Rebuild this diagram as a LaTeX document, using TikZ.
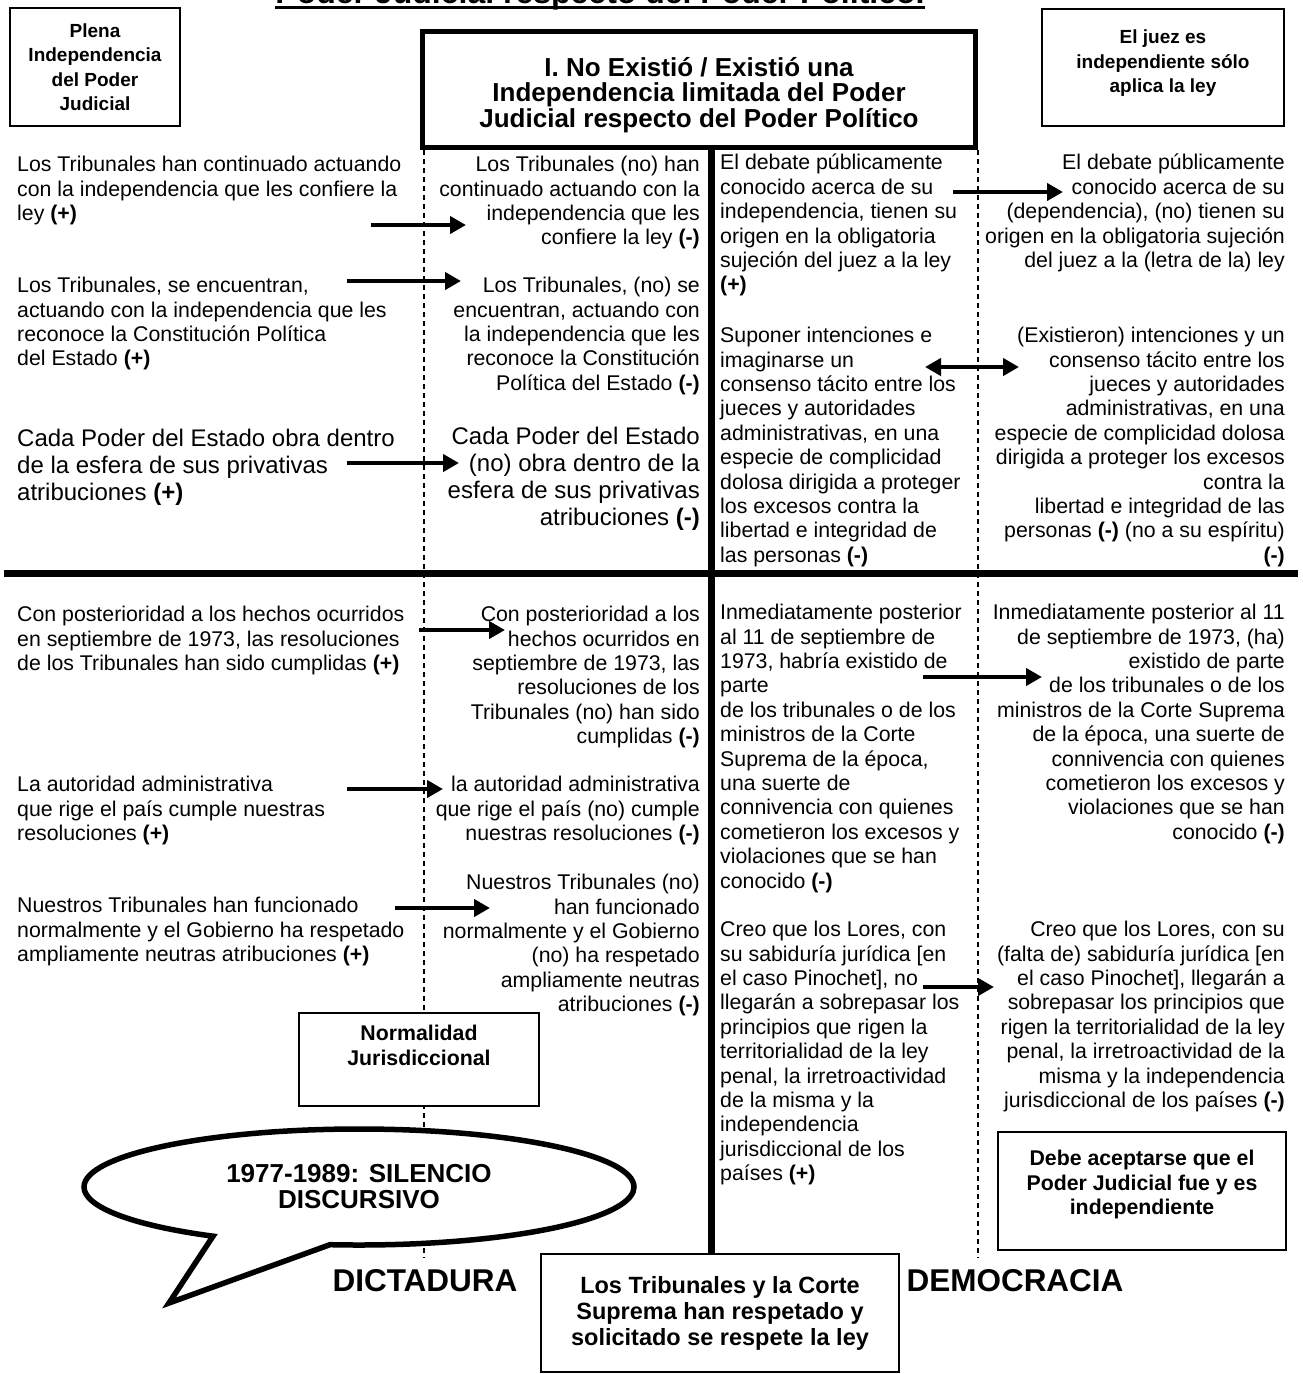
\documentclass[tikz,border=0pt]{standalone}
\usepackage{fontspec}
\setmainfont{Liberation Sans}
\usetikzlibrary{arrows.meta,shapes.callouts}

\begin{document}
\begin{tikzpicture}[x=1pt,y=-1pt,
      tx/.style={inner sep=0pt,font=\fontsize{21.3}{24.4}\selectfont,execute at begin node=\strut},
      izq/.style={tx,anchor=north west,align=left},
      der/.style={tx,anchor=north east,align=right},
      gr/.style={font=\fontsize{24}{27}\selectfont},
      caja/.style={draw,line width=2pt,fill=white,align=center,inner sep=0pt,
                   font=\bfseries\fontsize{19}{24.5}\selectfont},
      cajag/.style={caja,font=\bfseries\fontsize{21.3}{24.5}\selectfont},
      fl/.style={line width=4.5pt,-{Triangle[length=16pt,width=17pt]}},
      fd/.style={line width=4.5pt,{Triangle[length=16pt,width=17pt]}-{Triangle[length=16pt,width=17pt]}},
      punt/.style={line width=1.3pt,dash pattern=on 5pt off 4pt},
      gruesa/.style={line width=7pt},
      rotulo/.style={font=\bfseries\fontsize{31.5}{34}\selectfont}]
  \useasboundingbox (0,0) rectangle (1302,1374);

  \node[font=\bfseries\fontsize{32}{36}\selectfont,anchor=base,inner sep=0pt] (encabezado) at (600,3.5)
    {Poder Judicial respecto del Poder Político.};
  \draw[line width=2.5pt] ([yshift=-4pt]encabezado.base west) -- ([yshift=-4pt]encabezado.base east);

  \node[draw,line width=5pt,minimum width=553pt,minimum height=116pt,align=center,inner sep=0pt,
        font=\bfseries\fontsize{26}{25.5}\selectfont] (titulo) at (699,89.5)
    {\rule{0pt}{30pt}I. No Existió / Existió una\\ Independencia limitada del Poder\\ Judicial respecto del Poder Político};

  \coordinate (eje) at (711,0);
  \coordinate (ejeizq) at (424,0);
  \coordinate (ejeder) at (978,0);
  \coordinate (finizq) at (424,1258);
  \coordinate (finder) at (978,1258);
  \coordinate (hizq) at (4,573);
  \coordinate (hder) at (1298,573);

  \draw[punt] (titulo.south -| ejeizq) -- (finizq);
  \draw[punt] (titulo.south -| ejeder) -- (finder);
  \draw[gruesa] (hizq) -- (hder);

  \node[caja,font=\bfseries\fontsize{23.5}{26}\selectfont,minimum width=358pt,minimum height=118pt] (tribunales) at (720,1313)
    {Los Tribunales y la Corte\\ Suprema han respetado y\\ solicitado se respete la ley};
  \draw[gruesa] (titulo.south -| eje) -- (tribunales.north -| eje);

  \node[caja,minimum width=170pt,minimum height=118pt] (plena) at (95,67)
    {Plena\\ Independencia\\ del Poder\\ Judicial};
  \node[caja,minimum width=242pt,minimum height=117pt] (juez) at (1163,67.5)
    {El juez es\\ independiente sólo\\ aplica la ley\rule[-12pt]{0pt}{0pt}};
  \node[cajag,minimum width=240pt,minimum height=93pt] (normalidad) at (419,1059.5)
    {Normalidad\\ Jurisdiccional\rule[-28pt]{0pt}{0pt}};
  \node[cajag,line width=2.5pt,minimum width=288pt,minimum height=118pt] (debe) at (1142,1191)
    {Debe aceptarse que el\\ Poder Judicial fue y es\\ independiente\rule[-17pt]{0pt}{0pt}};

  \node[ellipse callout,draw,line width=5.5pt,fill=white,minimum width=550pt,minimum height=116pt,
        callout absolute pointer={(169,1303)},callout pointer arc=26,align=center,
        font=\bfseries\fontsize{26}{26}\selectfont] (burbuja) at (359,1187)
    {1977-1989: SILENCIO\\ DISCURSIVO};
  \node[rotulo] (dictadura) at (425,1281) {DICTADURA};
  \node[rotulo] (democracia) at (1015,1281) {DEMOCRACIA};

  \node[izq] (a1) at (17,156) {Los Tribunales han continuado actuando\\ con la independencia que les confiere la\\ ley \textbf{(+)}};
  \node[izq] (a2) at (17,277) {Los Tribunales, se encuentran,\\ actuando con la independencia que les\\ reconoce la Constitución Política\\ del Estado \textbf{(+)}};
  \node[izq,gr] (a3) at (17,429) {Cada Poder del Estado obra dentro\\ de la esfera de sus privativas\\ atribuciones \textbf{(+)}};
  \node[izq] (a4) at (17,606) {Con posterioridad a los hechos ocurridos\\ en septiembre de 1973, las resoluciones\\ de los Tribunales han sido cumplidas \textbf{(+)}};
  \node[izq] (a5) at (17,776) {La autoridad administrativa\\ que rige el país cumple nuestras\\ resoluciones \textbf{(+)}};
  \node[izq] (a6) at (17,897) {Nuestros Tribunales han funcionado\\ normalmente y el Gobierno ha respetado\\ ampliamente neutras atribuciones \textbf{(+)}};

  \node[der] (b1) at (700,156) {Los Tribunales (no) han\\ continuado actuando con la\\ independencia que les\\ confiere la ley \textbf{(-)}};
  \node[der] (b2) at (700,277) {Los Tribunales, (no) se\\ encuentran, actuando con\\ la independencia que les\\ reconoce la Constitución\\ Política del Estado \textbf{(-)}};
  \node[der,gr] (b3) at (700,427) {Cada Poder del Estado\\ (no) obra dentro de la\\ esfera de sus privativas\\ atribuciones \textbf{(-)}};
  \node[der] (b4) at (700,606) {Con posterioridad a los\\ hechos ocurridos en\\ septiembre de 1973, las\\ resoluciones de los\\ Tribunales (no) han sido\\ cumplidas \textbf{(-)}};
  \node[der] (b5) at (700,776) {la autoridad administrativa\\ que rige el país (no) cumple\\ nuestras resoluciones \textbf{(-)}};
  \node[der] (b6) at (700,874) {Nuestros Tribunales (no)\\ han funcionado\\ normalmente y el Gobierno\\ (no) ha respetado\\ ampliamente neutras\\ atribuciones \textbf{(-)}};

  \node[izq] (c1) at (720,154) {El debate públicamente\\ conocido acerca de su\\ independencia, tienen su\\ origen en la obligatoria\\ sujeción del juez a la ley\\ \textbf{(+)}};
  \node[izq] (c2) at (720,327) {Suponer intenciones e\\ imaginarse un\\ consenso tácito entre los\\ jueces y autoridades\\ administrativas, en una\\ especie de complicidad\\ dolosa dirigida a proteger\\ los excesos contra la\\ libertad e integridad de\\ las personas \textbf{(-)}};
  \node[izq] (c3) at (720,604) {Inmediatamente posterior\\ al 11 de septiembre de\\ 1973, habría existido de\\ parte\\ de los tribunales o de los\\ ministros de la Corte\\ Suprema de la época,\\ una suerte de\\ connivencia con quienes\\ cometieron los excesos y\\ violaciones que se han\\ conocido \textbf{(-)}};
  \node[izq] (c4) at (720,921) {Creo que los Lores, con\\ su sabiduría jurídica [en\\ el caso Pinochet], no\\ llegarán a sobrepasar los\\ principios que rigen la\\ territorialidad de la ley\\ penal, la irretroactividad\\ de la misma y la\\ independencia\\ jurisdiccional de los\\ países \textbf{(+)}};

  \node[der] (d1) at (1285,154) {El debate públicamente\\ conocido acerca de su\\ (dependencia), (no) tienen su\\ origen en la obligatoria sujeción\\ del juez a la (letra de la) ley};
  \node[der] (d2) at (1285,327) {(Existieron) intenciones y un\\ consenso tácito entre los\\ jueces y autoridades\\ administrativas, en una\\ especie de complicidad dolosa\\ dirigida a proteger los excesos\\ contra la\\ libertad e integridad de las\\ personas \textbf{(-)} (no a su espíritu)\\ \textbf{(-)}};
  \node[der] (d3) at (1285,604) {Inmediatamente posterior al 11\\ de septiembre de 1973, (ha)\\ existido de parte\\ de los tribunales o de los\\ ministros de la Corte Suprema\\ de la época, una suerte de\\ connivencia con quienes\\ cometieron los excesos y\\ violaciones que se han\\ conocido \textbf{(-)}};
  \node[der] (d4) at (1285,921) {Creo que los Lores, con su\\ (falta de) sabiduría jurídica [en\\ el caso Pinochet], llegarán a\\ sobrepasar los principios que\\ rigen la territorialidad de la ley\\ penal, la irretroactividad de la\\ misma y la independencia\\ jurisdiccional de los países \textbf{(-)}};

  \coordinate (f1i) at (371,225);  \coordinate (f1f) at (466,225);
  \coordinate (f2i) at (347,281);  \coordinate (f2f) at (461,281);
  \coordinate (f3i) at (347,463);  \coordinate (f3f) at (459,463);
  \coordinate (f4i) at (953,192);  \coordinate (f4f) at (1063,192);
  \coordinate (f5i) at (925,367);  \coordinate (f5f) at (1019,367);
  \coordinate (f6i) at (419,630);  \coordinate (f6f) at (505,630);
  \coordinate (f7i) at (347,789);  \coordinate (f7f) at (443,789);
  \coordinate (f8i) at (395,908);  \coordinate (f8f) at (490,908);
  \coordinate (f9i) at (923,677);  \coordinate (f9f) at (1042,677);
  \coordinate (f10i) at (923,987); \coordinate (f10f) at (994,987);
  \draw[fl] (f1i) -- (f1f); \draw[fl] (f2i) -- (f2f); \draw[fl] (f3i) -- (f3f);
  \draw[fl] (f4i) -- (f4f); \draw[fd] (f5i) -- (f5f);
  \draw[fl] (f6i) -- (f6f); \draw[fl] (f7i) -- (f7f); \draw[fl] (f8i) -- (f8f);
  \draw[fl] (f9i) -- (f9f); \draw[fl] (f10i) -- (f10f);
\end{tikzpicture}
\end{document}
